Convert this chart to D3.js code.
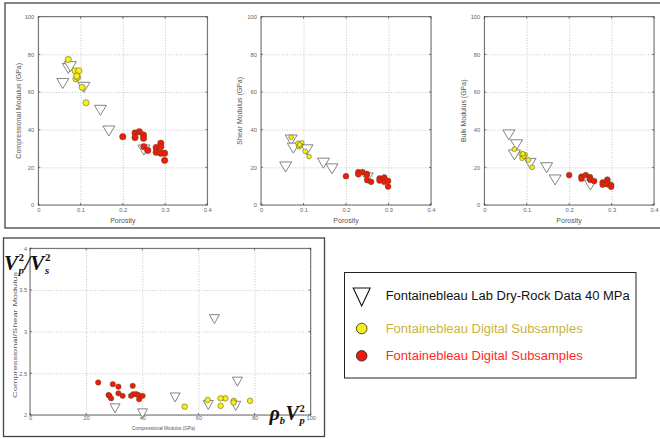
<!DOCTYPE html>
<html>
<head>
<meta charset="utf-8">
<script src="https://cdn.jsdelivr.net/npm/d3@7"></script>
<style>
  html, body { margin: 0; padding: 0; background: #fff; }
  svg { display: block; }
  .grid line { stroke: #b8b8b8; stroke-width: 0.8; stroke-dasharray: 1,1.6; }
  .grid path { display: none; }
  .lab path, .lab line { display: none; }
  .lab text { font-family: "Liberation Sans", Arial, sans-serif; fill: #666; }
</style>
</head>
<body>
<svg id="chart" width="660" height="439"></svg>
<script>
// ---- Lab dry-rock data (40 MPa) ----
const labPhi = [0.058, 0.071, 0.076, 0.108, 0.147, 0.167, 0.25];
const labM   = [64.5, 72.5, 73.5, 62.5, 50.3, 39.3, 29.2];
const labG   = [20.2, 34.5, 30.2, 29.3, 22.2, 19.2, 14.4];
const labK   = [37.2, 26.6, 32.0, 22.1, 19.8, 13.3, 10.6];
const labCrossM = [65.7, 73.3, 73.9, 63.5, 51.7, 40.1, 30.3];
const labRatio  = [3.15, 2.11, 2.40, 2.12, 2.21, 2.02, 2.08];

// ---- Digital subsamples (yellow) ----
const yelPhi = [0.071, 0.087, 0.096, 0.089, 0.093, 0.091, 0.104, 0.113];
const yelM   = [77.3, 71.3, 71.3, 67.0, 67.8, 68.5, 62.5, 54.3];
const yelG   = [36.0, 32.8, 33.0, 31.0, 31.5, 32.0, 28.5, 25.7];
const yelK   = [29.6, 27.0, 26.6, 24.8, 26.0, 27.2, 23.9, 20.0];
const yelCrossM = [78.4, 72.6, 72.5, 67.9, 69.6, 67.9, 63.3, 55.1];
const yelRatio  = [2.17, 2.17, 2.15, 2.11, 2.20, 2.20, 2.18, 2.10];

// ---- Digital subsamples (red) ----
const redPhi = [0.200, 0.229, 0.229, 0.239, 0.249, 0.249, 0.250, 0.259, 0.279, 0.279, 0.290, 0.290, 0.290, 0.299, 0.299];
const redM   = [36.3, 38.2, 35.8, 38.9, 37.2, 35.4, 31.0, 29.0, 30.5, 28.0, 32.8, 31.0, 27.5, 27.5, 23.7];
const redG   = [15.3, 17.4, 16.3, 17.5, 16.5, 16.0, 13.2, 12.3, 14.1, 13.0, 14.6, 13.8, 12.3, 12.8, 9.8];
const redK   = [15.9, 15.0, 14.0, 15.9, 14.8, 14.0, 13.3, 12.7, 12.0, 10.8, 13.5, 12.6, 11.0, 10.6, 9.7];
const redCrossM = [24.3, 28.0, 28.3, 28.9, 29.5, 31.5, 31.5, 33.0, 36.0, 36.6, 36.8, 37.8, 38.6, 38.9, 40.1];
const redRatio  = [2.39, 2.24, 2.23, 2.20, 2.37, 2.34, 2.26, 2.23, 2.23, 2.35, 2.25, 2.25, 2.24, 2.19, 2.23];

// ---- Tick values / labels ----
const porosityTicks = [0, 0.1, 0.2, 0.3, 0.4];
const modulusTicks  = [0, 20, 40, 60, 80, 100];
const crossXTicks   = [0, 20, 40, 60, 80, 100];
const crossYTicks   = [2, 2.5, 3, 3.5, 4];

const legendLabels = ["Fontainebleau Lab Dry-Rock Data 40 MPa", "Fontainebleau Digital Subsamples", "Fontainebleau Digital Subsamples"];

const YEL = "#f4ee1a", RED = "#ee1c0c";

const svg = d3.select("#chart");

// outer boxes
svg.append("rect").attr("x", 5).attr("y", 3).attr("width", 665).attr("height", 225)
  .attr("fill", "none").attr("stroke", "#444").attr("stroke-width", 1.3);
svg.append("rect").attr("x", 3.5).attr("y", 238).attr("width", 321).attr("height", 198.5)
  .attr("fill", "none").attr("stroke", "#444").attr("stroke-width", 1.3);

function triPath(w, h) {
  return `M${-w/2},${-h/2}L${w/2},${-h/2}L0,${h/2}Z`;
}

function drawPanel(opt) {
  const x = d3.scaleLinear().domain(opt.xDomain).range([opt.left, opt.right]);
  const y = d3.scaleLinear().domain(opt.yDomain).range([opt.bottom, opt.top]);
  const w = opt.right - opt.left, h = opt.bottom - opt.top;
  const g = svg.append("g");

  g.append("g").attr("class", "grid").attr("transform", `translate(0,${opt.bottom})`)
    .call(d3.axisBottom(x).tickValues(opt.xTicks).tickSize(-h).tickFormat(""));
  g.append("g").attr("class", "grid").attr("transform", `translate(${opt.left},0)`)
    .call(d3.axisLeft(y).tickValues(opt.yTicks).tickSize(-w).tickFormat(""));

  const xa = g.append("g").attr("class", "lab").attr("transform", `translate(0,${opt.bottom})`)
    .call(d3.axisBottom(x).tickValues(opt.xTicks).tickSize(0).tickPadding(opt.xPad).tickFormat(opt.xFmt));
  xa.selectAll("text").style("font-size", opt.tickFont + "px");
  const ya = g.append("g").attr("class", "lab").attr("transform", `translate(${opt.left},0)`)
    .call(d3.axisLeft(y).tickValues(opt.yTicks).tickSize(0).tickPadding(opt.yPad).tickFormat(opt.yFmt));
  ya.selectAll("text").style("font-size", opt.tickFont + "px");

  const tk = g.append("g").attr("stroke", "#444").attr("stroke-width", 0.7);
  opt.xTicks.forEach(v => {
    tk.append("line").attr("x1", x(v)).attr("x2", x(v)).attr("y1", opt.bottom).attr("y2", opt.bottom - 2);
    tk.append("line").attr("x1", x(v)).attr("x2", x(v)).attr("y1", opt.top).attr("y2", opt.top + 2);
  });
  opt.yTicks.forEach(v => {
    tk.append("line").attr("y1", y(v)).attr("y2", y(v)).attr("x1", opt.left).attr("x2", opt.left + 2);
    tk.append("line").attr("y1", y(v)).attr("y2", y(v)).attr("x1", opt.right).attr("x2", opt.right - 2);
  });

  g.append("rect").attr("x", opt.left).attr("y", opt.top).attr("width", w).attr("height", h)
    .attr("fill", "none").attr("stroke", "#444").attr("stroke-width", 0.8);

  const xl = g.append("text").attr("x", opt.xLabelX).attr("y", opt.xLabelY)
    .attr("text-anchor", "middle").attr("fill", "#555")
    .style("font-family", "Liberation Sans, Arial, sans-serif").style("font-size", opt.xLabelFont + "px")
    .text(opt.xLabel);
  if (opt.xLabelLen) xl.attr("textLength", opt.xLabelLen).attr("lengthAdjust", "spacingAndGlyphs");
  const yl = g.append("text").attr("transform", `translate(${opt.yLabelX},${opt.yLabelY}) rotate(-90)`)
    .attr("text-anchor", "middle").attr("fill", "#555")
    .style("font-family", "Liberation Sans, Arial, sans-serif").style("font-size", opt.yLabelFont + "px")
    .text(opt.yLabel);
  if (opt.yLabelLen) yl.attr("textLength", opt.yLabelLen).attr("lengthAdjust", "spacingAndGlyphs");

  const lab = opt.lab[0].map((v, i) => [v, opt.lab[1][i]]);
  g.append("g").selectAll("path").data(lab).join("path")
    .attr("d", triPath(opt.triW, opt.triH))
    .attr("transform", d => `translate(${x(d[0])},${y(d[1])})`)
    .attr("fill", "#fff").attr("stroke", "#666").attr("stroke-width", 0.8);

  [[opt.yel, YEL, opt.rY], [opt.red, RED, opt.rR]].forEach(([s, col, r]) => {
    const pts = s[0].map((v, i) => [v, s[1][i]]);
    g.append("g").selectAll("circle").data(pts).join("circle")
      .attr("cx", d => x(d[0])).attr("cy", d => y(d[1])).attr("r", r)
      .attr("fill", col).attr("stroke", "#5a4a20").attr("stroke-width", 0.5);
  });
  return {x, y};
}

const fmtP = d => d === 0 ? "0" : d3.format(".1f")(d);
const fmtI = d3.format("d");
const fmtR = d => (Number.isInteger(d) ? d3.format("d")(d) : d3.format(".1f")(d));

const topCommon = {
  xDomain: [0, 0.4], yDomain: [0, 100], top: 16.7, bottom: 205,
  xTicks: porosityTicks, yTicks: modulusTicks, xFmt: fmtP, yFmt: fmtI,
  xPad: 3, yPad: 4, tickFont: 5.8, xLabel: "Porosity", xLabelY: 222.5, xLabelFont: 7, yLabelFont: 7,
  triW: 12, triH: 10
};

drawPanel(Object.assign({}, topCommon, {
  left: 38.3, right: 207.3, xLabelX: 122.8, yLabelX: 20.5, yLabelY: 110.8,
  yLabel: "Compressional Modulus (GPa)",
  lab: [labPhi, labM], yel: [yelPhi, yelM], red: [redPhi, redM], rY: 3.1, rR: 3.2
}));
drawPanel(Object.assign({}, topCommon, {
  left: 261, right: 431, xLabelX: 346, yLabelX: 241.5, yLabelY: 110.8,
  yLabel: "Shear Modulus (GPa)",
  lab: [labPhi, labG], yel: [yelPhi, yelG], red: [redPhi, redG], rY: 2.4, rR: 2.9
}));
drawPanel(Object.assign({}, topCommon, {
  left: 484.3, right: 654, xLabelX: 569, yLabelX: 465.5, yLabelY: 110.8,
  yLabel: "Bulk Modulus (GPa)",
  lab: [labPhi, labK], yel: [yelPhi, yelK], red: [redPhi, redK], rY: 2.4, rR: 2.9
}));

drawPanel({
  xDomain: [0, 100], yDomain: [2, 4], left: 30, right: 310.7, top: 248.3, bottom: 415,
  xTicks: crossXTicks, yTicks: crossYTicks, xFmt: fmtI, yFmt: fmtR,
  xPad: 1.2, yPad: 3, tickFont: 5.6,
  xLabel: "Compressional Modulus (GPa)", xLabelX: 163.5, xLabelY: 429.5, xLabelFont: 5.5, xLabelLen: 63,
  yLabel: "Compressional/Shear Modulus", yLabelX: 16.5, yLabelY: 335, yLabelFont: 4.8, yLabelLen: 126,
  triW: 10, triH: 9,
  lab: [labCrossM, labRatio], yel: [yelCrossM, yelRatio], red: [redCrossM, redRatio], rY: 2.8, rR: 2.7
});

// math labels laid out left to right
const mathFont = "Liberation Serif, Times New Roman, serif";
function mathLabel(x0, base, size, small, parts) {
  let cx = x0;
  const g = svg.append("g").attr("fill", "#111")
    .style("font-family", mathFont).style("font-weight", "bold");
  parts.forEach(p => {
    const t = g.append("text").attr("x", cx).attr("y", base)
      .style("font-size", size + "px").style("font-style", p.italic === false ? "normal" : "italic")
      .text(p.main);
    cx += t.node().getComputedTextLength() + (p.gap || 0);
    let wmax = 0;
    if (p.sup) {
      const s = g.append("text").attr("x", cx).attr("y", base - size * 0.42)
        .style("font-size", small + "px").text(p.sup);
      wmax = Math.max(wmax, s.node().getComputedTextLength());
    }
    if (p.sub) {
      const s = g.append("text").attr("x", cx).attr("y", base + size * 0.2)
        .style("font-size", small + "px").style("font-style", "italic").text(p.sub);
      wmax = Math.max(wmax, s.node().getComputedTextLength());
    }
    cx += wmax + (wmax ? 0.5 : 0);
  });
}
mathLabel(4, 270, 21, 11, [
  {main: "V", sub: "p", sup: "2", gap: 0.5},
  {main: "/", italic: true},
  {main: "V", sub: "s", sup: "2", gap: 0.5}
]);
mathLabel(269.5, 420, 20, 10.5, [
  {main: "\u03c1", sub: "b", gap: 0},
  {main: "V", sub: "p", sup: "2", gap: 0.5}
]);

// legend
const lg = svg.append("g");
lg.append("rect").attr("x", 344.5).attr("y", 272.5).attr("width", 291.5).attr("height", 105.5)
  .attr("fill", "#fff").attr("stroke", "#222").attr("stroke-width", 1);
lg.append("path").attr("d", triPath(17, 18)).attr("transform", "translate(361.7,297)")
  .attr("fill", "#fff").attr("stroke", "#111").attr("stroke-width", 1.1);
lg.append("circle").attr("cx", 361.7).attr("cy", 328.5).attr("r", 5.3)
  .attr("fill", YEL).attr("stroke", "#222").attr("stroke-width", 0.8);
lg.append("circle").attr("cx", 361.7).attr("cy", 355.8).attr("r", 5.3)
  .attr("fill", RED).attr("stroke", "#222").attr("stroke-width", 0.8);
const legCols = ["#111", "#c8b43a", "#ff2a1a"];
const legY = [299.5, 332.5, 360];
const legLen = [244, 197, 197];
legendLabels.forEach((t, i) => {
  lg.append("text").attr("x", 385.7).attr("y", legY[i]).attr("fill", legCols[i])
    .style("font-family", "Liberation Sans, Arial, sans-serif").style("font-size", "12.5px")
    .attr("textLength", legLen[i]).attr("lengthAdjust", "spacingAndGlyphs")
    .text(t);
});
</script>
</body>
</html>
